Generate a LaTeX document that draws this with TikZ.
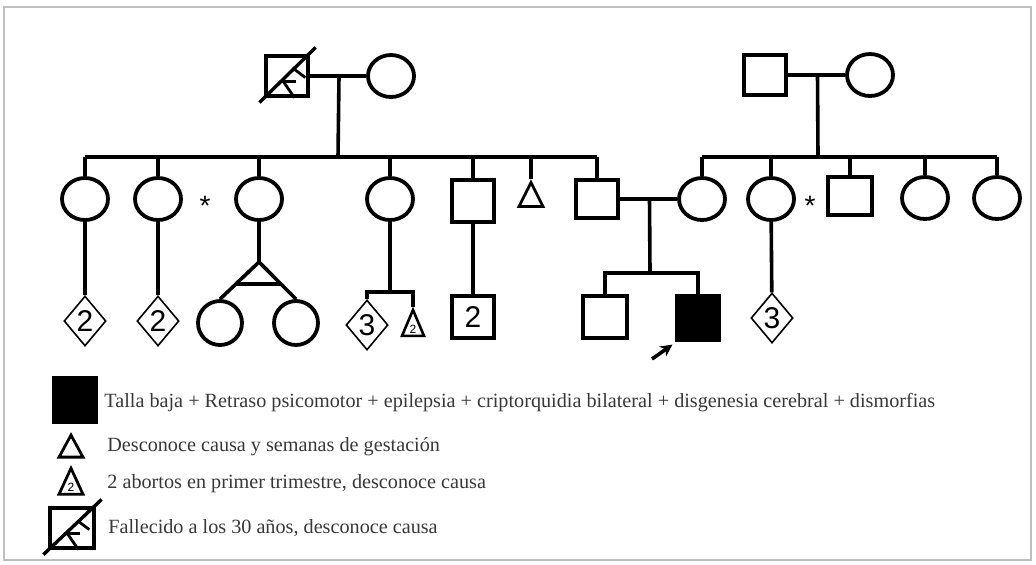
\documentclass[tikz,border=0pt]{standalone}
\usepackage{fontspec}
\setmainfont{Liberation Serif}
\setsansfont{Liberation Sans}
\usetikzlibrary{shapes.geometric,calc,arrows.meta}

% cross and wedge on a deceased person
\newcommand{\deadmark}[1]{%
  \draw[line width=1.7pt] ($(#1.south west)+(-5,5)$) -- ($(#1.north east)+(6,-7)$);
  \begin{scope}[shift={(#1.south west)},line width=1.4pt]
    \draw (29,-29) -- (41,-20);
    \draw (32,-16) -- (16,-16);
    \draw (19,-16) -- (30,0);
  \end{scope}
}

\begin{document}
\begin{tikzpicture}[x=0.5pt,y=-0.5pt,
  thk/.style={line width=1.8pt},
  fem/.style={ellipse,draw,line width=1.9pt,minimum width=23pt,minimum height=21pt,inner sep=0pt},
  mal/.style={rectangle,draw,line width=1.6pt,minimum width=21pt,minimum height=20pt,inner sep=0pt},
  unk/.style={diamond,draw,line width=0.8pt,minimum width=21pt,minimum height=25pt,inner sep=0pt,
    font=\sffamily\fontsize{15}{15}\selectfont},
  preg/.style={isosceles triangle,isosceles triangle stretches,shape border rotate=90,draw,
    line width=1.4pt,inner sep=0pt,minimum width=12pt,minimum height=12pt},
  num/.style={font=\sffamily\fontsize{15}{15}\selectfont},
  starlbl/.style={font=\sffamily\fontsize{14}{14}\selectfont},
  legtext/.style={anchor=west,inner sep=0pt,text=black!78,font=\fontsize{10.1}{12}\selectfont}]
\useasboundingbox (0,0) rectangle (1036,564);
\draw[black!25,line width=0.6pt] (4,7) rectangle (1031,560);

% first generation
\node[mal] (gl1) at (287,76) {};
\node[fem] (gl2) at (391,76) {};
\deadmark{gl1}
\node[mal] (gr1) at (765,75) {};
\node[fem] (gr2) at (870,75) {};
\draw[thk] (gl1) -- (gl2);
\draw[thk] (gr1) -- (gr2);

% second generation
\node[fem] (a1) at (85,199) {};
\node[fem] (a2) at (158,199) {};
\node[fem] (a3) at (259,199) {};
\node[fem] (a4) at (390,199) {};
\node[mal,minimum height=21pt] (a5) at (473,201) {};
\node[preg] (a6) at (531,199) {};
\node[mal,minimum height=19pt] (a7) at (597,199) {};
\node[starlbl] (st1) at (205,206) {*};

\node[fem] (b1) at (702,199) {};
\node[fem] (b2) at (771,199) {};
\node[mal,minimum width=22pt,minimum height=19pt] (b3) at (850,196) {};
\node[fem] (b4) at (925,198) {};
\node[fem] (b5) at (997,198) {};
\node[starlbl] (st2) at (810,206) {*};

\coordinate (sL) at (338,157);
\coordinate (sR) at (818,157);
\draw[thk] ($(gl1)!0.5!(gl2)$) -- (sL);
\draw[thk] ($(gr1)!0.5!(gr2)$) -- (sR);
\draw[thk] (sL -| a1) -- (sL -| a7);
\draw[thk] (sR -| b1) -- (sR -| b5);
\foreach \n in {a1,a2,a3,a4,a5,a6,a7}
  \draw[thk] (sL -| \n) -- (\n.north);
\foreach \n in {b1,b2,b3,b4,b5}
  \draw[thk] (sR -| \n) -- (\n.north);
\draw[thk] (a7) -- (b1);

% third generation
\node[unk] (d1) at (85,321) {2};
\node[unk] (d2) at (158,321) {2};
\node[fem,minimum width=22pt,minimum height=22pt] (t1) at (220,323) {};
\node[fem,minimum width=22pt,minimum height=22pt] (t2) at (296,323) {};
\node[unk] (d3) at (367,325) {3};
\node[preg,line width=1.3pt,minimum width=11pt,minimum height=13pt,
  font=\sffamily\fontsize{6}{6}\selectfont] (p1) at (413,329) {2};
\node[mal,minimum width=21pt,minimum height=21pt,num] (s1) at (473,317) {2};
\node[mal,minimum width=22pt,minimum height=21pt] (c1) at (605,317) {};
\node[mal,fill=black,minimum width=21pt,minimum height=22pt] (c2) at (698,318) {};
\node[unk] (d4) at (772,318) {3};

\draw[thk] (a1) -- (d1);
\draw[thk] (a2) -- (d2);
\coordinate (tw) at (259,262);
\draw[thk] (a3) -- (tw);
\draw[thk] (t1.north) -- (tw) -- (t2.north);
\draw[thk] ($(tw)!0.6!(t1.north)$) -- ($(tw)!0.6!(t2.north)$);
\coordinate (j4) at (390,292);
\draw[thk] (a4) -- (j4);
\draw[thk] (d3.north) |- (j4) -| (p1.north);
\draw[thk] (a5) -- (s1);
\coordinate (sC) at (650,273);
\draw[thk] ($(a7)!0.5!(b1)$) -- (sC);
\draw[thk] (c1.north) |- (sC) -| (c2.north);
\draw[thk] (b2) -- (d4);

% proband arrow
\coordinate (arr) at (652,359);
\draw[line width=1.8pt,-{Stealth[length=6pt,width=6pt]}] (arr) -- ([shift={(-3,3)}]c2.south west);

% legend
\node[mal,fill=black,minimum width=21.5pt,minimum height=22pt] (l1) at (75,400) {};
\node[legtext] (lt1) at (104,403) {Talla baja + Retraso psicomotor + epilepsia + criptorquidia bilateral + disgenesia cerebral + dismorfias};
\node[preg,minimum width=12pt,minimum height=11pt] (l2) at (71,450) {};
\node[legtext] (lt2) at (107,447) {Desconoce causa y semanas de gestación};
\node[preg,minimum width=12pt,minimum height=13pt,
  font=\sffamily\fontsize{6}{6}\selectfont] (l3) at (71,487) {2};
\node[legtext] (lt3) at (107,484) {2 abortos en primer trimestre, desconoce causa};
\node[mal,minimum width=22pt,minimum height=20pt] (l4) at (72,528) {};
\deadmark{l4}
\node[legtext] (lt4) at (108,528) {Fallecido a los 30 años, desconoce causa};
\end{tikzpicture}
\end{document}
